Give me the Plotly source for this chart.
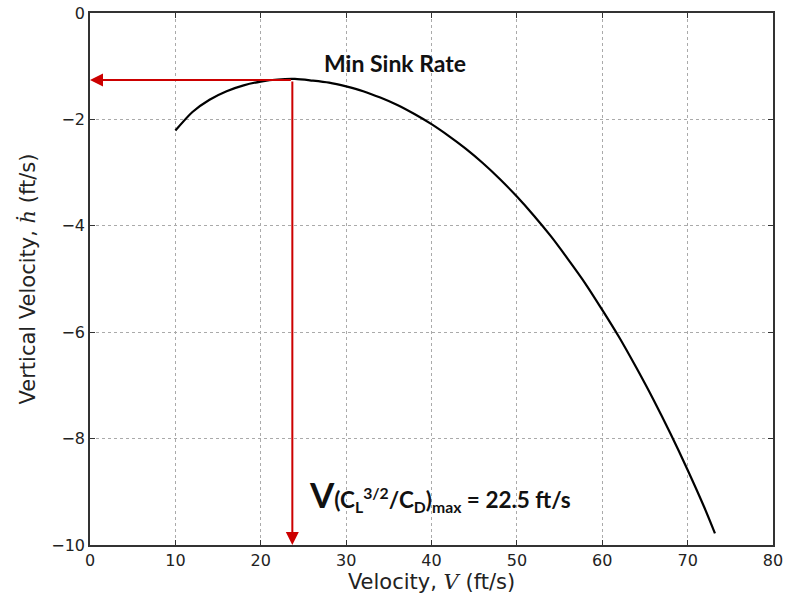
import plotly.graph_objects as go

velocity = [10, 12, 14, 16, 18, 20, 22, 24, 26, 28, 30, 32, 34, 36, 38, 40, 42, 44, 46, 48, 50,
            52, 54, 56, 58, 60, 62, 64, 66, 68, 70, 72, 73.2]
vertical_velocity = [-2.21, -1.86, -1.63, -1.47, -1.36, -1.29, -1.25, -1.24, -1.27, -1.31, -1.38, -1.47, -1.59,
                     -1.73, -1.90, -2.09, -2.31, -2.55, -2.82, -3.12, -3.45, -3.81, -4.20, -4.63, -5.08, -5.58,
                     -6.10, -6.67, -7.27, -7.91, -8.59, -9.31, -9.78]
v_min_sink = 23.7
h_min_sink = -1.26
x_ticks = [0, 10, 20, 30, 40, 50, 60, 70, 80]
y_ticks = [0, -2, -4, -6, -8, -10]
y_tick_text = ["0", "\u22122", "\u22124", "\u22126", "\u22128", "\u221210"]

fig = go.Figure()
fig.add_trace(go.Scatter(x=velocity, y=vertical_velocity, mode="lines",
                         line=dict(color="black", width=2.2, shape="spline", smoothing=0.8),
                         showlegend=False, hoverinfo="skip"))

red = "#cc0000"
fig.add_annotation(x=0, y=h_min_sink, ax=v_min_sink, ay=h_min_sink, xref="x", yref="y", axref="x", ayref="y",
                   showarrow=True, arrowhead=2, arrowsize=1.3, arrowwidth=2, arrowcolor=red, text="")
fig.add_annotation(x=v_min_sink, y=-10, ax=v_min_sink, ay=h_min_sink, xref="x", yref="y", axref="x", ayref="y",
                   showarrow=True, arrowhead=2, arrowsize=1.3, arrowwidth=2, arrowcolor=red, text="")

fig.add_annotation(x=35.7, y=-0.94, xref="x", yref="y", showarrow=False,
                   text="<b>Min Sink Rate</b>", font=dict(family="Lato", size=23, color="#111111"))
fig.add_annotation(x=25.4, y=-9.05, xref="x", yref="y", showarrow=False, xanchor="left",
                   text="<b><span style='font-size:35px'>V</span>(C<sub>L</sub><sup>3/2</sup>/C<sub>D</sub>)<sub>max</sub> = 22.5 ft/s</b>",
                   font=dict(family="Lato", size=22.5, color="#111111"))

axis_common = dict(showline=True, linecolor="#333333", linewidth=1.5, mirror="ticks", ticks="inside", ticklen=5,
                   tickcolor="#333333", showgrid=True, gridcolor="#aaaaaa", griddash="dot", gridwidth=1,
                   zeroline=False, automargin=False, tickfont=dict(family="DejaVu Sans", size=16, color="#222222"))

fig.update_xaxes(range=[0, 80], tickvals=x_ticks, ticktext=[str(t) for t in x_ticks],
                 title=dict(text="Velocity, <span style='font-family:DejaVu Serif'><i>V</i></span> (ft/s)",
                            font=dict(family="DejaVu Sans", size=21, color="#222222"), standoff=4),
                 **axis_common)
fig.update_yaxes(range=[-10, 0], tickvals=y_ticks, ticktext=y_tick_text,
                 title=dict(text="Vertical Velocity, <span style='font-family:DejaVu Serif'><i>\u1e23</i></span> (ft/s)",
                            font=dict(family="DejaVu Sans", size=21, color="#222222"), standoff=10),
                 **axis_common)

fig.update_layout(width=786, height=599, margin=dict(l=90, r=13, t=13, b=54),
                  plot_bgcolor="white", paper_bgcolor="white")

fig.write_html("out.html")
